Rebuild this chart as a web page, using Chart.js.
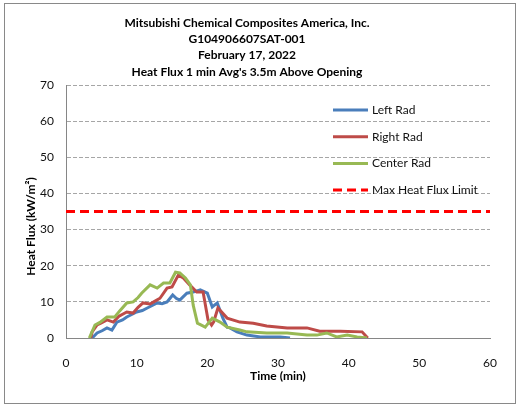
<!DOCTYPE html>
<html>
<head>
<meta charset="utf-8">
<script src="https://cdn.jsdelivr.net/npm/chart.js@4"></script>
<style>
  html, body { margin: 0; padding: 0; background: #fff; }
  #wrap { width: 522px; height: 410px; }
</style>
</head>
<body>
<div id="wrap"><canvas id="canvas" width="522" height="410"></canvas></div>
<script>
// values (time in min, flux in kW/m²)
var leftTime = [3.7, 4.4, 5.1, 5.8, 6.5, 7.2, 8.0, 8.6, 9.3, 10, 10.8, 11.5, 12.2, 12.9, 13.6, 14.3, 15.1, 15.6, 16.1, 17.1, 18.0, 19.0, 19.7, 20.0, 20.7, 21.4, 22.2, 22.8, 23.2, 24.2, 25.6, 27.5, 30.3, 31.7];
var leftFlux = [0, 1.4, 2, 2.8, 2.2, 4.4, 5, 5.8, 6.5, 7.2, 7.6, 8.3, 9, 9.7, 9.5, 10, 11.9, 11, 10.5, 12.4, 12.7, 13.3, 12.7, 12.4, 8.6, 9.7, 5.5, 3, 2.8, 1.7, 0.8, 0.3, 0.3, 0];

var rightTime = [3.5, 3.7, 4.4, 5.0, 5.8, 6.7, 7.5, 8.6, 9.5, 10.2, 10.9, 11.9, 12.6, 13.3, 14.3, 15.0, 15.9, 16.6, 17.5, 18.5, 19.4, 20.1, 20.6, 20.9, 21.5, 22.8, 24.6, 26.5, 28.4, 31.3, 34.1, 35.9, 38.8, 41.9, 42.7];
var rightFlux = [0, 1.7, 3.6, 4.2, 5, 4.4, 6, 7.2, 6.9, 8.5, 9.7, 9.4, 10.2, 11, 13.8, 14.1, 17.4, 16.6, 14.7, 12.7, 12.7, 5, 3.6, 4.5, 8.3, 5.5, 4.4, 4.1, 3.3, 2.8, 2.8, 1.9, 1.9, 1.7, 0];

var centerTime = [3.3, 4.1, 4.8, 5.8, 6.9, 7.6, 8.6, 9.5, 10.2, 10.7, 11.9, 12.9, 13.8, 14.7, 15.5, 16.1, 16.9, 17.6, 18.0, 18.6, 19.7, 20.7, 21.8, 22.8, 24.6, 25.6, 28.4, 31.3, 34.1, 35.5, 36.9, 38.3, 39.8, 41.2, 42.6];
var centerFlux = [0, 3.6, 4.3, 5.8, 5.8, 7.5, 9.7, 10, 11.2, 12.4, 14.7, 13.8, 15.2, 15.2, 18.2, 18, 16.6, 14.7, 9.1, 4.1, 3, 5.5, 4.4, 3, 2.2, 1.7, 1.4, 1.4, 0.8, 0.8, 1.4, 0.3, 0.8, 0.3, 0];

var limitTime = [0, 60];
var limitFlux = [35, 35];

var xTicks = [0, 10, 20, 30, 40, 50, 60];
var yTicks = [0, 10, 20, 30, 40, 50, 60, 70];

var titleLines = [
  'Mitsubishi Chemical Composites America, Inc.',
  'G104906607SAT-001',
  'February 17, 2022',
  "Heat Flux 1 min Avg's 3.5m Above Opening"
];
var yTitle = 'Heat Flux (kW/m²)';

function pts(xs, ys) {
  return xs.map(function (x, i) { return { x: x, y: ys[i] }; });
}

var FONT = 'Lato, "Liberation Sans", sans-serif';

// frame round the whole chart
var framePlugin = {
  id: 'frame',
  beforeDraw: function (chart) {
    var c = chart.ctx;
    c.save();
    c.fillStyle = '#fff';
    c.fillRect(0, 0, chart.width, chart.height);
    c.strokeStyle = '#898989';
    c.lineWidth = 1;
    c.strokeRect(4.5, 3.5, 511, 400);
    c.restore();
  }
};

// y title sits a bit below the middle in the original
var yTitlePlugin = {
  id: 'yTitle',
  afterDraw: function (chart) {
    var c = chart.ctx, a = chart.chartArea;
    c.save();
    c.translate(31, (a.top + a.bottom) / 2 + 15);
    c.rotate(-Math.PI / 2);
    c.font = 'bold 12px ' + FONT;
    c.fillStyle = '#000';
    c.textAlign = 'center';
    c.textBaseline = 'middle';
    c.fillText(yTitle, 0, 0);
    c.restore();
  }
};

// legend drawn inside the plot, like the original
var boxLegend = {
  id: 'boxLegend',
  afterDraw: function (chart) {
    var c = chart.ctx, a = chart.chartArea;
    var x0 = a.right - 157, y0 = a.top + 25;
    c.save();
    c.font = '12px ' + FONT;
    c.textBaseline = 'middle';
    chart.data.datasets.forEach(function (ds, row) {
      var y = y0 + row * 26.7;
      c.beginPath();
      c.strokeStyle = ds.borderColor;
      c.lineWidth = ds.borderWidth;
      c.setLineDash(ds.borderDash || []);
      c.moveTo(x0, y);
      c.lineTo(x0 + 35, y);
      c.stroke();
      c.setLineDash([]);
      c.fillStyle = '#111';
      c.fillText(ds.label, x0 + 39, y);
    });
    c.restore();
  }
};

var ctx = document.getElementById('canvas').getContext('2d');
var chart = new Chart(ctx, {
  type: 'line',
  data: {
    datasets: [
      { label: 'Left Rad', data: pts(leftTime, leftFlux), borderColor: '#4A7EBB', borderWidth: 3, order: 3 },
      { label: 'Right Rad', data: pts(rightTime, rightFlux), borderColor: '#BE4B48', borderWidth: 3, order: 2 },
      { label: 'Center Rad', data: pts(centerTime, centerFlux), borderColor: '#98B954', borderWidth: 3, order: 1 },
      { label: 'Max Heat Flux Limit', data: pts(limitTime, limitFlux), borderColor: '#FF0000', borderWidth: 3, borderDash: [9, 5], order: 0 }
    ]
  },
  options: {
    responsive: false,
    animation: false,
    devicePixelRatio: 1,
    elements: { point: { radius: 0 }, line: { tension: 0, borderCapStyle: 'butt' } },
    layout: { padding: { left: 4, right: 32, top: 0, bottom: 6 } },
    plugins: {
      legend: { display: false },
      tooltip: { enabled: false },
      title: {
        display: true,
        text: titleLines,
        color: '#000',
        font: { family: FONT, size: 12, weight: 'bold', lineHeight: 1.35 },
        padding: { top: 15, bottom: 5.2 }
      }
    },
    scales: {
      x: {
        type: 'linear',
        min: 0, max: 60,
        afterBuildTicks: function (s) { s.ticks = xTicks.map(function (v) { return { value: v }; }); },
        afterFit: function (s) { s.height = 66; },
        grid: { display: false },
        border: { display: true, color: '#868686', width: 1 },
        ticks: { color: '#111', padding: 10, font: { family: FONT, size: 12 } },
        title: { display: true, text: 'Time (min)', color: '#000', padding: { top: 0, bottom: 21 }, font: { family: FONT, size: 12, weight: 'bold' } }
      },
      y: {
        min: 0, max: 70,
        afterBuildTicks: function (s) { s.ticks = yTicks.map(function (v) { return { value: v }; }); },
        afterFit: function (s) { s.width = 62; },
        grid: { color: '#A6A6A6', lineWidth: 1, drawTicks: false },
        border: { display: true, color: '#868686', width: 1, dash: [4, 2] },
        ticks: { color: '#111', padding: 12, font: { family: FONT, size: 12 } },
        title: { display: false }
      }
    }
  },
  plugins: [framePlugin, yTitlePlugin, boxLegend]
});
</script>
</body>
</html>
